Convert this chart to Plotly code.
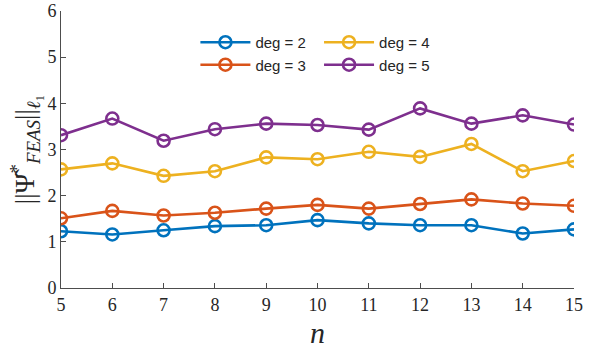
import plotly.graph_objects as go

# problem size n and the l1 norms for each polynomial degree
n_vals = [5, 6, 7, 8, 9, 10, 11, 12, 13, 14, 15]
deg2 = [1.23, 1.16, 1.25, 1.34, 1.36, 1.47, 1.40, 1.36, 1.36, 1.18, 1.27]
deg3 = [1.51, 1.67, 1.57, 1.63, 1.72, 1.80, 1.72, 1.82, 1.92, 1.83, 1.78]
deg4 = [2.57, 2.70, 2.43, 2.53, 2.83, 2.79, 2.95, 2.84, 3.12, 2.53, 2.75]
deg5 = [3.31, 3.67, 3.19, 3.44, 3.56, 3.53, 3.43, 3.89, 3.56, 3.74, 3.54]

x_ticks = [5, 6, 7, 8, 9, 10, 11, 12, 13, 14, 15]
y_ticks = [0, 1, 2, 3, 4, 5, 6]

series = [
    ("deg = 2", deg2, "#0072BD", "legend"),
    ("deg = 3", deg3, "#D95319", "legend"),
    ("deg = 4", deg4, "#EDB120", "legend2"),
    ("deg = 5", deg5, "#7E2F8E", "legend2"),
]

fig = go.Figure()
for name, vals, color, leg in series:
    fig.add_trace(go.Scatter(
        x=n_vals, y=vals, name=name, mode="lines+markers",
        line=dict(color=color, width=2.6),
        marker=dict(symbol="circle-open", size=12, color=color,
                    line=dict(width=2.6, color=color)),
        legend=leg,
    ))

axis_color = "#4d4d4d"
tick_font = dict(family="Liberation Serif, Times New Roman, serif", size=18, color="#262626")
legend_font = dict(family="Liberation Sans, Arial, sans-serif", size=15, color="#262626")

fig.update_layout(
    width=593, height=349,
    margin=dict(l=61, r=19, t=11, b=61),
    plot_bgcolor="white", paper_bgcolor="white",
    xaxis=dict(
        range=[5, 15], tickvals=x_ticks, ticks="inside", ticklen=5,
        tickcolor=axis_color, showline=True, linecolor=axis_color, linewidth=1,
        showgrid=False, zeroline=False, tickfont=tick_font, automargin=False,
        title=dict(text="<i>n</i>", font=dict(family="Liberation Serif, serif", size=30, color="#262626"),
                   standoff=12),
    ),
    yaxis=dict(
        range=[0, 6], tickvals=y_ticks, ticks="inside", ticklen=5,
        tickcolor=axis_color, showline=True, linecolor=axis_color, linewidth=1,
        showgrid=False, zeroline=False, tickfont=tick_font, automargin=False,
        title=dict(text="||Ψ\u0302<sup>*</sup><sub><i>FEAS</i></sub>||<sub><i>ℓ</i>₁</sub>",
                   font=dict(family="Liberation Serif, serif", size=27, color="#262626"),
                   standoff=4),
    ),
    legend=dict(x=0.262, y=0.946, xanchor="left", yanchor="top", font=legend_font,
                bgcolor="rgba(255,255,255,0)", tracegroupgap=0, itemwidth=50),
    legend2=dict(x=0.503, y=0.946, xanchor="left", yanchor="top", font=legend_font,
                 bgcolor="rgba(255,255,255,0)", tracegroupgap=0, itemwidth=50),
)

fig.write_html("out.html")
